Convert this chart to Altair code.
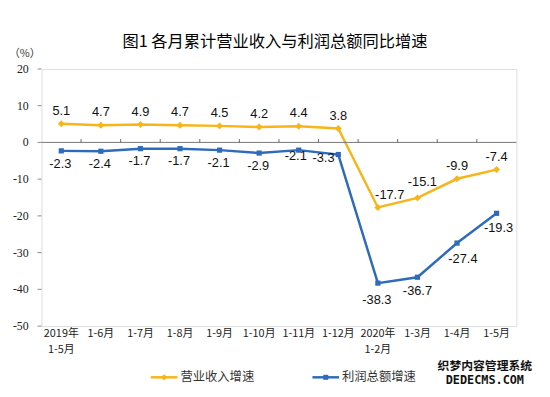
import altair as alt
import pandas as pd

categories = ["2019年\n1-5月", "1-6月", "1-7月", "1-8月", "1-9月", "1-10月",
              "1-11月", "1-12月", "2020年\n1-2月", "1-3月", "1-4月", "1-5月"]
revenue = [5.1, 4.7, 4.9, 4.7, 4.5, 4.2, 4.4, 3.8, -17.7, -15.1, -9.9, -7.4]
profit = [-2.3, -2.4, -1.7, -1.7, -2.1, -2.9, -2.1, -3.3, -38.3, -36.7, -27.4, -19.3]
series_names = ["营业收入增速", "利润总额增速"]
y_ticks = [20, 10, 0, -10, -20, -30, -40, -50]
title_text = "图1  各月累计营业收入与利润总额同比增速"
unit_text = "（%）"
watermark = ["织梦内容管理系统", "DEDECMS.COM"]

YELLOW = "#F7B519"
BLUE = "#2E6BBA"
W, H = 482, 261

rows = []
for i, c in enumerate(categories):
    rows.append({"cat": c, "idx": i, "s": 0, "series": series_names[0], "value": revenue[i], "label": f"{revenue[i]:.1f}"})
    rows.append({"cat": c, "idx": i, "s": 1, "series": series_names[1], "value": profit[i], "label": f"{profit[i]:.1f}"})
df = pd.DataFrame(rows)
ticks_df = pd.DataFrame({"value": y_ticks, "label": [str(t) for t in y_ticks]})

xscale = alt.Scale(type="band", domain=categories, paddingInner=0, paddingOuter=0)
yscale = alt.Scale(domain=[-50, 20], nice=False, zero=False)
color = alt.Color("series:N", scale=alt.Scale(domain=series_names, range=[YELLOW, BLUE]), legend=None)

x_axis = alt.Axis(orient="bottom", title=None, domain=False, ticks=False, labelAngle=0,
                  labelFont="Noto Sans CJK SC", labelFontSize=11, labelColor="#222",
                  labelPadding=2, labelLineHeight=16, labelBaseline="top",
                  labelOverlap=False,
                  labelExpr="split(datum.label, '\\n')")
y_axis = alt.Axis(title=None, domain=False, grid=False, ticks=False, labels=False)


def X(bp=0.5):
    return alt.X("cat:N", scale=xscale, sort=categories, bandPosition=bp, axis=x_axis)


def Y(field="value"):
    return alt.Y(field + ":Q", scale=yscale, axis=y_axis)


base = alt.Chart(df)

lines = base.mark_line(strokeWidth=2.5).encode(x=X(), y=Y(), color=color)
points = base.mark_point(filled=True, opacity=1).encode(
    x=X(),
    y=Y(),
    color=color,
    shape=alt.Shape("series:N", scale=alt.Scale(domain=series_names, range=["diamond", "square"]), legend=None),
    size=alt.Size("series:N", scale=alt.Scale(domain=series_names, range=[50, 28]), legend=None),
)

# y tick marks and labels
tick_src = alt.Chart(ticks_df)
y_tick_marks = tick_src.mark_rule(color="#888", strokeWidth=1).encode(
    y=Y(), x=alt.value(-4), x2=alt.value(0))
y_tick_labels = tick_src.mark_text(font="Liberation Serif", fontSize=12, color="#222",
                                   align="right", baseline="middle").encode(
    y=Y(), x=alt.value(-13), text="label:N")

# zero line with small tick marks at the category boundaries
zero_line = alt.Chart(alt.Data(values=[{"v": 0}])).mark_rule(color="#777", strokeWidth=1).encode(
    y=Y("v"))
zero_ticks = base.transform_filter("datum.s == 0 && datum.idx > 0").mark_rule(
    color="#666", strokeWidth=1).encode(
    x=X(0),
    y=alt.datum(0),
    y2=alt.datum(0.9),
)


def labels(s, idxs, dx, dy):
    cond = "datum.s == %d && indexof(%s, datum.idx) >= 0" % (s, str(idxs))
    return base.transform_filter(cond).mark_text(
        font="Liberation Sans", fontSize=13, color="#111", dx=dx, dy=dy).encode(
        x=X(),
        y=Y(),
        text="label:N",
    )


label_layers = [
    labels(0, [0, 1, 2, 3, 4, 5, 6, 7, 10, 11], 0, -13),
    labels(0, [8], 12, -13),
    labels(0, [9], 5, -16),
    labels(1, [0, 1, 2, 3, 4, 5], -1, 13),
    labels(1, [6], -3, 6),
    labels(1, [7], -15, 4),
    labels(1, [8], -1, 17),
    labels(1, [9], 0, 14),
    labels(1, [10], 6, 16),
    labels(1, [11], 2, 15),
]

one = alt.Data(values=[{"k": 0}])
title = alt.Chart(one).mark_text(font="Noto Sans CJK SC", fontSize=16.5, fontWeight="normal", color="#000").encode(
    x=alt.value(237), y=alt.value(-27), text=alt.value(title_text))
unit = alt.Chart(one).mark_text(font="Noto Sans CJK SC", fontSize=11, color="#333").encode(
    x=alt.value(-17), y=alt.value(-15), text=alt.value(unit_text))

leg_y = 313
leg = []
for name, col, shp, sz, x0 in [(series_names[0], YELLOW, "diamond", 40, 111),
                               (series_names[1], BLUE, "square", 26, 275)]:
    leg.append(alt.Chart(one).mark_rule(color=col, strokeWidth=2.5).encode(
        x=alt.value(x0), x2=alt.value(x0 + 27), y=alt.value(leg_y)))
    leg.append(alt.Chart(one).mark_point(filled=True, opacity=1, color=col, shape=shp, size=sz).encode(
        x=alt.value(x0 + 13.5), y=alt.value(leg_y)))
    leg.append(alt.Chart(one).mark_text(font="Noto Sans CJK SC", fontSize=12.5, color="#333",
                                        align="left", baseline="middle").encode(
        x=alt.value(x0 + 30), y=alt.value(leg_y), text=alt.value(name)))

wm1 = alt.Chart(one).mark_text(font="Noto Sans CJK SC", fontSize=12, fontWeight="bold", color="#111").encode(
    x=alt.value(450), y=alt.value(302), text=alt.value(watermark[0]))
wm2 = alt.Chart(one).mark_text(font="DejaVu Sans Mono", fontSize=12, fontWeight="bold", color="#111").encode(
    x=alt.value(450), y=alt.value(316), text=alt.value(watermark[1]))

chart = alt.layer(lines, zero_line, zero_ticks, y_tick_marks, y_tick_labels, points, *label_layers,
                  title, unit, *leg, wm1, wm2).properties(
    width=W, height=H,
    padding={"left": 34, "top": 59, "right": 26, "bottom": 61},
    autosize=alt.AutoSizeParams(type="none"),
).configure_view(stroke="#8c8c8c", strokeWidth=1).configure(background="white")

chart.save("out.html", embed_options={"renderer": "svg", "actions": False})
